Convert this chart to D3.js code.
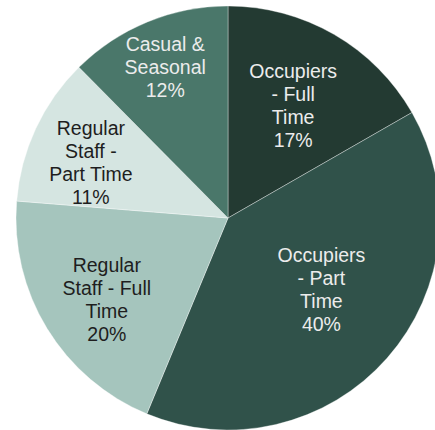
<!DOCTYPE html>
<html>
<head>
<meta charset="utf-8">
<script src="https://cdn.jsdelivr.net/npm/d3@7"></script>
<style>
  html, body { margin: 0; padding: 0; background: #ffffff; }
  svg { display: block; }
</style>
</head>
<body>
<svg id="chart" width="435" height="430"></svg>
<script>
// ---- data ----
const categories = [
  "Occupiers - Full Time",
  "Occupiers - Part Time",
  "Regular Staff - Full Time",
  "Regular Staff - Part Time",
  "Casual & Seasonal"
];
const labelLines = [
  ["Occupiers", "- Full", "Time"],
  ["Occupiers", "- Part", "Time"],
  ["Regular", "Staff - Full", "Time"],
  ["Regular", "Staff -", "Part Time"],
  ["Casual &", "Seasonal"]
];
const values = [16.7, 39.5, 20.0, 11.3, 12.4];
const percentLabels = ["17%", "40%", "20%", "11%", "12%"];

// ---- styling (not data) ----
const colors = ["#233a32", "#30524a", "#a5c5bd", "#d5e5e1", "#4a776a"];
const textColors = ["#ececec", "#ececec", "#1e1e1e", "#1e1e1e", "#ececec"];
const labelRadius = [130, 118, 146, 148, 163];
const labelFrac = [0.5, 0.474, 0.466, 0.429, 0.493];

const svg = d3.select("#chart");
const cx = 228, cy = 218, R = 212;
const g = svg.append("g").attr("transform", `translate(${cx},${cy})`);

const pie = d3.pie().sort(null).value(d => d.value);
const data = categories.map((c, i) => ({ name: c, value: values[i], i }));
const arcs = pie(data);

const arc = d3.arc().innerRadius(0).outerRadius(R);

g.selectAll("path.slice")
  .data(arcs)
  .join("path")
  .attr("class", "slice")
  .attr("d", arc)
  .attr("fill", d => colors[d.data.i])
  .attr("stroke", "rgba(255,255,255,0.35)")
  .attr("stroke-width", 1);

const lineH = 23;
arcs.forEach(d => {
  const i = d.data.i;
  const la = d3.arc().innerRadius(labelRadius[i]).outerRadius(labelRadius[i]);
  const a = d.startAngle + (d.endAngle - d.startAngle) * labelFrac[i];
  const [x, y] = la.centroid({ startAngle: a, endAngle: a });
  const lines = labelLines[i].concat([percentLabels[i]]);
  const y0 = y - (lines.length - 1) * lineH / 2;
  const t = g.append("text")
    .attr("text-anchor", "middle")
    .attr("font-family", "Liberation Sans, Arial, sans-serif")
    .attr("font-size", 19.5)
    .attr("fill", textColors[i]);
  lines.forEach((ln, k) => {
    t.append("tspan")
      .attr("x", x)
      .attr("y", y0 + k * lineH)
      .attr("dy", "0.35em")
      .text(ln);
  });
});
</script>
</body>
</html>
